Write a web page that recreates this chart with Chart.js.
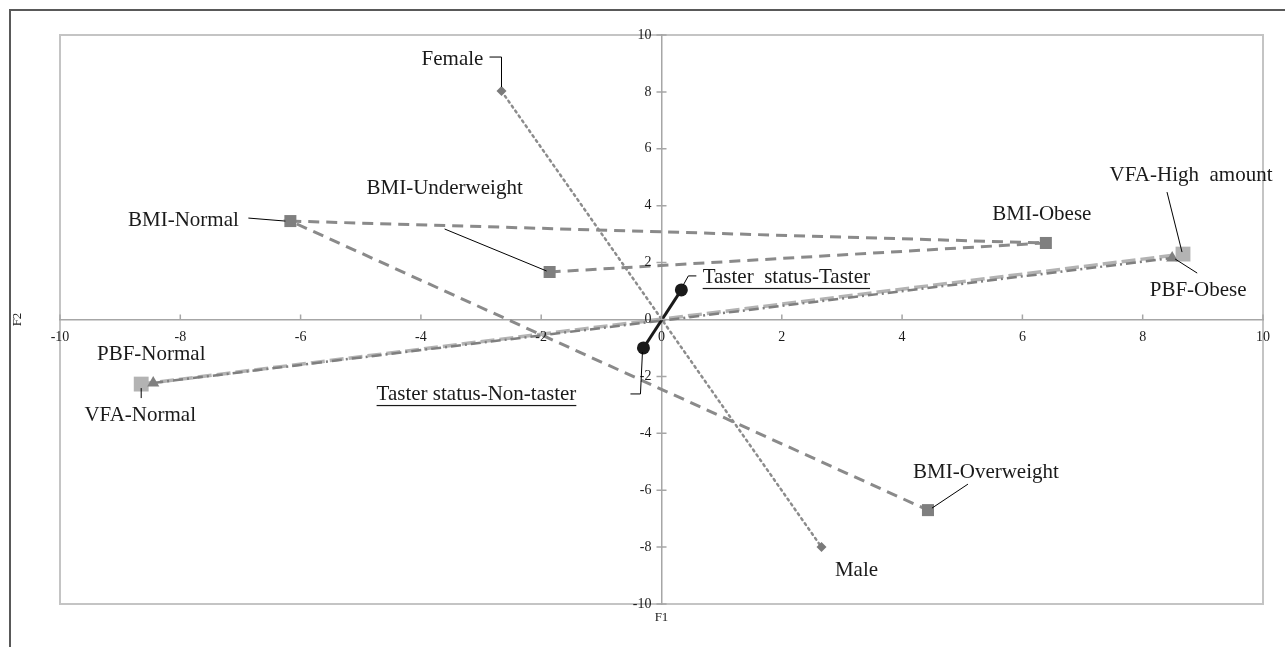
<!DOCTYPE html>
<html>
<head>
<meta charset="utf-8">
<script src="https://cdn.jsdelivr.net/npm/chart.js@4/dist/chart.umd.min.js"></script>
<style>
  html, body { margin: 0; padding: 0; background: #fff; }
  #wrap { width: 1285px; height: 647px; position: relative; }
</style>
</head>
<body>
<div id="wrap"><canvas id="chart"></canvas></div>
<script>
// Correspondence map, F1 vs F2
const sexLabels = ["Female", "Male"];
const sexF1 = [-2.66, 2.66];
const sexF2 = [8.03, -8.0];

const bmiLabels = ["BMI-Underweight", "BMI-Obese", "BMI-Normal", "BMI-Overweight"];
const bmiF1 = [-1.86, 6.39, -6.17, 4.43];
const bmiF2 = [1.67, 2.69, 3.46, -6.7];

const vfaLabels = ["VFA-Normal", "VFA-High  amount"];
const vfaF1 = [-8.65, 8.67];
const vfaF2 = [-2.27, 2.3];

const pbfLabels = ["PBF-Normal", "PBF-Obese"];
const pbfF1 = [-8.45, 8.49];
const pbfF2 = [-2.23, 2.16];

const tasterLabels = ["Taster status-Non-taster", "Taster  status-Taster"];
const tasterF1 = [-0.3, 0.33];
const tasterF2 = [-1.0, 1.04];

const axisTicks = [-10, -8, -6, -4, -2, 0, 2, 4, 6, 8, 10];

// label placement: text centre offset from the point, leader polyline offsets
const LABEL_POS = {
  "Female": { dx: -49, dy: -32, leader: [[-12, -34], [0, -34], [0, -4]] },
  "Male": { dx: 35, dy: 23 },
  "BMI-Normal": { dx: -107, dy: -1, leader: [[-42, -3], [-5, 0]] },
  "BMI-Underweight": { dx: -105, dy: -84, leader: [[-105, -43], [-3, -1]] },
  "BMI-Obese": { dx: -4, dy: -28 },
  "BMI-Overweight": { dx: 58, dy: -38, leader: [[40, -26], [4, -2]] },
  "VFA-High  amount": { dx: 8, dy: -79, leader: [[-16, -62], [-1, -2]] },
  "PBF-Obese": { dx: 26, dy: 32, leader: [[25, 15], [3, 1]] },
  "PBF-Normal": { dx: -2, dy: -28 },
  "VFA-Normal": { dx: -1, dy: 31, leader: [[0, 4], [0, 14]] },
  "Taster  status-Taster": { dx: 105, dy: -12, underline: true, leader: [[15, -14], [7, -14], [2, -5]] },
  "Taster status-Non-taster": { dx: -167, dy: 47, underline: true, leader: [[-13, 46], [-3, 46], [-1, 4]] },
};

const SERIF = "'Liberation Serif', 'Times New Roman', serif";

function pts(xs, ys) {
  return xs.map((x, i) => ({ x, y: ys[i] }));
}

const datasets = [
  {
    label: "Taster status", names: tasterLabels, data: pts(tasterF1, tasterF2),
    borderColor: "#1a1a1a", borderWidth: 3,
    pointStyle: "circle", pointRadius: 6.5, pointBackgroundColor: "#1a1a1a", pointBorderColor: "#1a1a1a",
  },
  {
    label: "Sex", names: sexLabels, data: pts(sexF1, sexF2),
    borderColor: "#8c8c8c", borderWidth: 2.5, borderDash: [2, 4], borderCapStyle: "round",
    pointStyle: "rectRot", pointRadius: 5, pointBackgroundColor: "#7a7a7a", pointBorderColor: "#7a7a7a",
  },
  {
    label: "PBF", names: pbfLabels, data: pts(pbfF1, pbfF2),
    borderColor: "#7f7f7f", borderWidth: 2.5, borderDash: [10, 4, 2, 4],
    pointStyle: "triangle", pointRadius: 7, pointBackgroundColor: "#808080", pointBorderColor: "#808080",
  },
  {
    label: "VFA", names: vfaLabels, data: pts(vfaF1, vfaF2),
    borderColor: "#b3b3b3", borderWidth: 3.5, borderDash: [14, 5],
    pointStyle: "rect", pointRadius: 10.5, pointBackgroundColor: "#b3b3b3", pointBorderColor: "#b3b3b3",
  },
  {
    label: "BMI", names: bmiLabels, data: pts(bmiF1, bmiF2),
    borderColor: "#8a8a8a", borderWidth: 3, borderDash: [11, 7],
    pointStyle: "rect", pointRadius: 8.5, pointBackgroundColor: "#7f7f7f", pointBorderColor: "#7f7f7f",
  },
].map(d => Object.assign({ showLine: true, fill: false, tension: 0, pointBorderWidth: 0, clip: false }, d));

// frame, axes, tick labels, titles, point labels
const decorPlugin = {
  id: "decor",
  beforeDraw(chart) {
    const { ctx, chartArea: a } = chart;
    ctx.save();
    ctx.strokeStyle = "#595959";
    ctx.lineWidth = 2;
    ctx.beginPath();
    ctx.moveTo(10, 647);
    ctx.lineTo(10, 10);
    ctx.lineTo(1285, 10);
    ctx.stroke();
    ctx.strokeStyle = "#c4c4c4";
    ctx.lineWidth = 2;
    ctx.strokeRect(a.left, a.top, a.right - a.left, a.bottom - a.top);
    ctx.restore();
  },
  afterDraw(chart) {
    const { ctx, chartArea: a } = chart;
    const xs = chart.scales.x, ys = chart.scales.y;
    const x0 = xs.getPixelForValue(0), y0 = ys.getPixelForValue(0);
    ctx.save();
    ctx.strokeStyle = "#a6a6a6";
    ctx.lineWidth = 1.5;
    ctx.beginPath();
    xs.ticks.forEach(t => {
      const px = xs.getPixelForValue(t.value);
      ctx.moveTo(px, y0 - 5); ctx.lineTo(px, y0);
    });
    ys.ticks.forEach(t => {
      const py = ys.getPixelForValue(t.value);
      ctx.moveTo(x0 - 5, py); ctx.lineTo(x0 + 5, py);
    });
    ctx.stroke();

    ctx.fillStyle = "#1a1a1a";
    ctx.font = "14px " + SERIF;
    ctx.textAlign = "center";
    ctx.textBaseline = "middle";
    xs.ticks.forEach(t => {
      ctx.fillText(t.label, xs.getPixelForValue(t.value), y0 + 18);
    });
    ctx.textAlign = "right";
    ys.ticks.forEach(t => {
      ctx.fillText(t.label, x0 - 10, ys.getPixelForValue(t.value));
    });

    ctx.font = "13px " + SERIF;
    ctx.textAlign = "center";
    ctx.fillText("F1", x0, a.bottom + 14);
    ctx.save();
    ctx.translate(18, y0);
    ctx.rotate(-Math.PI / 2);
    ctx.fillText("F2", 0, 0);
    ctx.restore();

    // point labels with leader lines
    ctx.font = "21px " + SERIF;
    ctx.lineWidth = 1;
    ctx.strokeStyle = "#000";
    chart.data.datasets.forEach((ds, di) => {
      const meta = chart.getDatasetMeta(di);
      meta.data.forEach((el, i) => {
        const name = ds.names[i];
        const pos = LABEL_POS[name];
        if (!pos) return;
        const tx = el.x + pos.dx, ty = el.y + pos.dy;
        ctx.textAlign = "center";
        ctx.textBaseline = "middle";
        ctx.fillText(name, tx, ty);
        if (pos.underline) {
          const w = ctx.measureText(name).width;
          ctx.fillRect(tx - w / 2, ty + 10, w, 1.2);
        }
        if (pos.leader) {
          ctx.beginPath();
          pos.leader.forEach(([lx, ly], k) => {
            if (k === 0) ctx.moveTo(el.x + lx, el.y + ly);
            else ctx.lineTo(el.x + lx, el.y + ly);
          });
          ctx.stroke();
        }
      });
    });
    ctx.restore();
  }
};

new Chart(document.getElementById("chart"), {
  type: "scatter",
  data: { datasets },
  options: {
    responsive: true,
    maintainAspectRatio: false,
    animation: false,
    layout: { padding: { left: 60, top: 35, right: 22, bottom: 43 } },
    plugins: { legend: { display: false }, tooltip: { enabled: false } },
    scales: {
      x: {
        type: "linear", min: -10, max: 10,
        position: { y: 0 },
        afterBuildTicks: s => { s.ticks = axisTicks.map(v => ({ value: v })); },
        ticks: { display: false },
        grid: { drawOnChartArea: false, drawTicks: false },
        border: { display: true, color: "#a6a6a6", width: 1.5 },
      },
      y: {
        type: "linear", min: -10, max: 10,
        position: { x: 0 },
        afterBuildTicks: s => { s.ticks = axisTicks.map(v => ({ value: v })); },
        ticks: { display: false },
        grid: { drawOnChartArea: false, drawTicks: false },
        border: { display: true, color: "#a6a6a6", width: 1.5 },
      },
    },
  },
  plugins: [decorPlugin],
});
</script>
</body>
</html>
